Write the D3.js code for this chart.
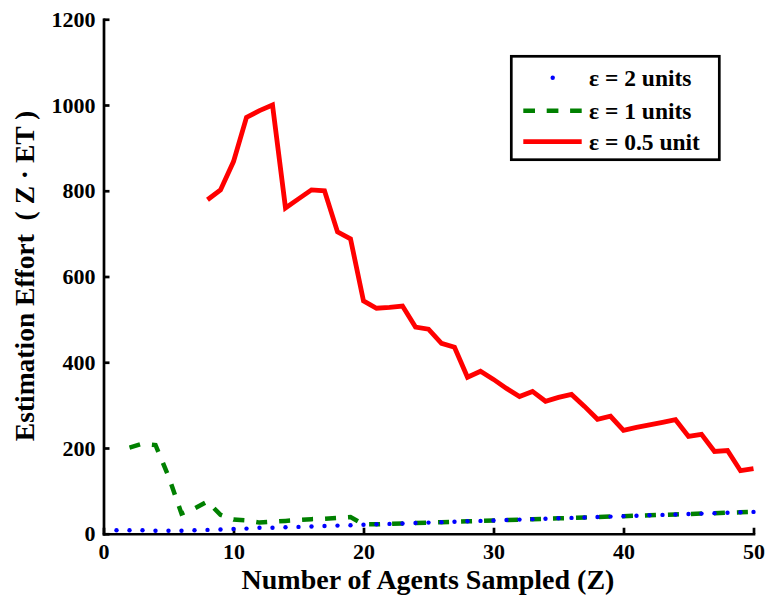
<!DOCTYPE html>
<html>
<head>
<meta charset="utf-8">
<script src="https://cdn.jsdelivr.net/npm/d3@7"></script>
<style>
  html, body { margin: 0; padding: 0; background: #fff; }
  svg { display: block; }
</style>
</head>
<body>
<svg id="chart" width="769" height="599"></svg>
<script>
// Number of agents sampled (Z) for each series
const zBlue = d3.range(1, 51);
const zGreen = d3.range(2, 51);
const zRed = d3.range(8, 51);

// Estimation effort for eps = 2 units
const effortEps2 = [8, 8, 8, 7, 7, 7, 8, 9, 10, 11, 12, 14, 14, 15, 16, 17, 18, 19, 20, 21,
  22, 23, 24, 25, 26, 27, 28, 29, 30, 31, 32, 33, 34, 35, 36, 37, 38, 39, 40, 41,
  42, 43, 44, 45, 46, 47, 48, 49, 50, 51];

// Estimation effort for eps = 1 units
const effortEps1 = [201, 210, 207, 134, 47, 59, 75, 44, 33, 31, 26, 28, 30, 32, 34, 35, 37, 39, 22,
  22, 23, 24, 25, 26, 27, 28, 29, 30, 31, 32, 33, 34, 35, 36, 37, 38, 39, 40, 41,
  42, 43, 44, 45, 46, 47, 48, 49, 50, 51];

// Estimation effort for eps = 0.5 unit
const effortEps05 = [779, 802, 868, 971, 987, 1000, 760, 781, 802, 800, 704, 688, 543, 526, 528, 531,
  482, 477, 444, 435, 365, 379, 360, 339, 320, 332, 309, 318, 325, 297, 267, 274, 241, 248, 254, 260,
  266, 227, 232, 192, 194, 147, 152];

const xTicks = [0, 10, 20, 30, 40, 50];
const yTicks = [0, 200, 400, 600, 800, 1000, 1200];

const legendLabels = ["\u03b5 = 2 units", "\u03b5 = 1 units", "\u03b5 = 0.5 unit"];

const FONT = "'Liberation Serif', 'Times New Roman', serif";

const svg = d3.select("#chart");

const x = d3.scaleLinear().domain([0, 50]).range([103.5, 753.5]);
const y = d3.scaleLinear().domain([0, 1200]).range([533.75, 19.25]);

// Axes: left and bottom only, ticks pointing inward
const xAxis = d3.axisBottom(x).tickValues(xTicks).tickFormat(d3.format("d"))
  .tickSizeInner(-6).tickSizeOuter(0).tickPadding(10);
const yAxis = d3.axisLeft(y).tickValues(yTicks).tickFormat(d3.format("d"))
  .tickSizeInner(-6).tickSizeOuter(0).tickPadding(8);

const gx = svg.append("g").attr("transform", `translate(0,${y(0)})`).call(xAxis);
const gy = svg.append("g").attr("transform", `translate(${x(0)},0)`).call(yAxis);

[gx, gy].forEach(g => {
  g.attr("font-family", null).attr("font-size", null);
  g.select(".domain").attr("stroke", "#000").attr("stroke-width", 2.7).attr("stroke-linecap", "square");
  g.selectAll(".tick line").attr("stroke", "#000").attr("stroke-width", 2.7);
  g.selectAll(".tick text")
    .style("font-family", FONT)
    .style("font-weight", "bold")
    .style("font-size", "22px")
    .attr("fill", "#000");
});

// Data series
const line = d3.line().x(d => x(d[0])).y(d => y(d[1]));

const redData = zRed.map((z, i) => [z, effortEps05[i]]);
const greenData = zGreen.map((z, i) => [z, effortEps1[i]]);
const blueData = zBlue.map((z, i) => [z, effortEps2[i]]);

svg.append("path")
  .datum(redData)
  .attr("d", line)
  .attr("fill", "none")
  .attr("stroke", "#ff0000")
  .attr("stroke-width", 4.8)
  .attr("stroke-linejoin", "miter");

svg.append("path")
  .datum(greenData)
  .attr("d", line)
  .attr("fill", "none")
  .attr("stroke", "#008000")
  .attr("stroke-width", 4.5)
  .attr("stroke-dasharray", "11,12");

svg.append("g")
  .selectAll("circle")
  .data(blueData)
  .join("circle")
  .attr("cx", d => x(d[0]))
  .attr("cy", d => y(d[1]))
  .attr("r", 2.2)
  .attr("fill", "#0000ff");

// Axis titles
svg.append("text")
  .attr("x", 428)
  .attr("y", 589)
  .attr("text-anchor", "middle")
  .style("font-family", FONT)
  .style("font-weight", "bold")
  .style("font-size", "28px")
  .text("Number of Agents Sampled (Z)");

svg.append("text")
  .attr("transform", "translate(34,276) rotate(-90)")
  .attr("text-anchor", "middle")
  .style("font-family", FONT)
  .style("font-weight", "bold")
  .style("font-size", "27.5px")
  .style("white-space", "pre")
  .text("Estimation Effort  ( Z \u00b7 ET )");

// Legend
const legend = svg.append("g");
legend.append("rect")
  .attr("x", 511.3).attr("y", 56.3)
  .attr("width", 208).attr("height", 103.4)
  .attr("fill", "#fff")
  .attr("stroke", "#000")
  .attr("stroke-width", 2.7);

const rowY = [77.7, 110.7, 141.7];

legend.append("circle")
  .attr("cx", 552.7).attr("cy", rowY[0]).attr("r", 2.2).attr("fill", "#0000ff");

legend.append("line")
  .attr("x1", 523.3).attr("x2", 581.7)
  .attr("y1", rowY[1]).attr("y2", rowY[1])
  .attr("stroke", "#008000").attr("stroke-width", 4.5)
  .attr("stroke-dasharray", "11.7,11.7");

legend.append("line")
  .attr("x1", 523.3).attr("x2", 581.7)
  .attr("y1", rowY[2]).attr("y2", rowY[2])
  .attr("stroke", "#ff0000").attr("stroke-width", 4.8);

legend.selectAll("text.lbl")
  .data(legendLabels)
  .join("text")
  .attr("class", "lbl")
  .attr("x", 589)
  .attr("y", (d, i) => rowY[i])
  .attr("dy", "0.35em")
  .style("font-family", FONT)
  .style("font-weight", "bold")
  .style("font-size", "23.5px")
  .text(d => d);
</script>
</body>
</html>
